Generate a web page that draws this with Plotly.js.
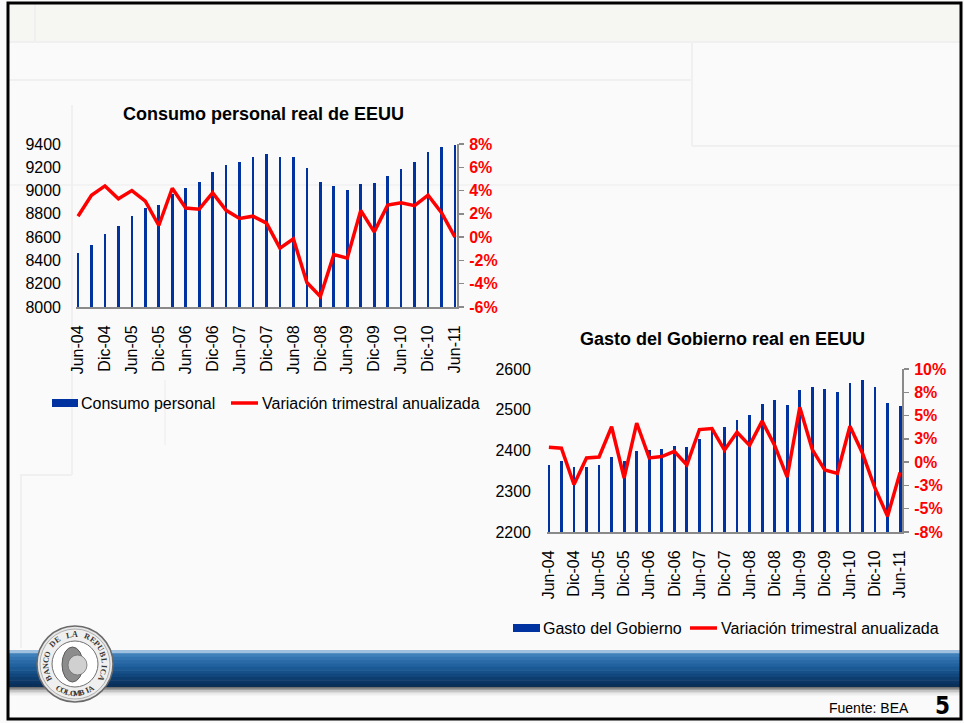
<!DOCTYPE html>
<html>
<head>
<meta charset="utf-8">
<script src="https://cdn.plot.ly/plotly-3.0.1.min.js"></script>
<style>
html,body{margin:0;padding:0;background:#fafafa;}
#chart{width:964px;height:723px;}
</style>
</head>
<body>
<div id="chart"></div>
<script>
// ---------- DATA ----------
const quarters = ["Jun-04","Sep-04","Dic-04","Mar-05","Jun-05","Sep-05","Dic-05","Mar-06","Jun-06","Sep-06","Dic-06",
  "Mar-07","Jun-07","Sep-07","Dic-07","Mar-08","Jun-08","Sep-08","Dic-08","Mar-09","Jun-09","Sep-09","Dic-09",
  "Mar-10","Jun-10","Sep-10","Dic-10","Mar-11","Jun-11"];

const consumoPersonal = [8465,8536,8628,8697,8783,8852,8878,8967,9024,9076,9162,9216,9248,9291,9317,9291,9291,
  9196,9076,9041,9001,9053,9062,9127,9188,9248,9334,9377,9389];
const consumoVariacion = [1.8,3.6,4.4,3.3,4.0,3.1,1.0,4.2,2.5,2.4,3.8,2.3,1.6,1.8,1.2,-0.95,-0.15,-3.9,-5.1,
  -1.5,-1.8,2.3,0.45,2.75,2.95,2.7,3.6,2.1,0.0];

const gastoGobierno = [2364,2374,2359,2359,2364,2384,2374,2398,2401,2403,2411,2408,2428,2450,2457,2475,2487,
  2514,2524,2511,2548,2556,2551,2543,2566,2573,2556,2516,2509];
const gastoVariacion = [1.6,1.5,-2.4,0.45,0.55,3.8,-1.7,4.2,0.45,0.6,1.15,-0.3,3.5,3.6,1.3,3.2,1.8,4.4,1.8,
  -1.6,5.9,1.35,-0.85,-1.2,3.85,0.95,-2.8,-5.8,-1.1];

const pctTicksLeft = [-6,-4,-2,0,2,4,6,8];
const pctTicksLeftText = ["-6%","-4%","-2%","0%","2%","4%","6%","8%"];
const pctTicksRight = [-7.5,-5,-2.5,0,2.5,5,7.5,10];
const pctTicksRightText = ["-8%","-5%","-3%","0%","3%","5%","8%","10%"];

const title1 = "Consumo personal real de EEUU";
const title2 = "Gasto del Gobierno real en EEUU";
const serieBar1 = "Consumo personal";
const serieBar2 = "Gasto del Gobierno";
const serieLine = "Variación trimestral anualizada";
const fuente = "Fuente: BEA";
const pagina = "5";
const logoTop = "BANCO DE LA REPUBLICA";
const logoBottom = "COLOMBIA";

// ---------- HELPERS ----------
const W = 964, H = 723;
const px = x => x / W;
const py = y => 1 - y / H;
const FONT = "Liberation Sans, Arial, sans-serif";
const BLUE = "#0033a0";
const RED = "#ff0000";
const tickLabels = quarters.filter((q, i) => i % 2 === 0);

// ---------- TRACES ----------
const traces = [
  {type:"bar", x:quarters, y:consumoPersonal, xaxis:"x", yaxis:"y", width:0.2,
   marker:{color:BLUE}, name:serieBar1, showlegend:false},
  {type:"scatter", mode:"lines", x:quarters, y:consumoVariacion, xaxis:"x", yaxis:"y2",
   line:{color:RED, width:3.5}, name:serieLine, showlegend:false},
  {type:"bar", x:quarters, y:gastoGobierno, xaxis:"x2", yaxis:"y3", width:0.22,
   marker:{color:BLUE}, name:serieBar2, showlegend:false},
  {type:"scatter", mode:"lines", x:quarters, y:gastoVariacion, xaxis:"x2", yaxis:"y4",
   line:{color:RED, width:3.5}, name:serieLine, showlegend:false}
];

// ---------- SHAPES (slide decoration) ----------
const shapes = [];
function rect(x0,y0,x1,y1,fill,line,lw){
  shapes.push({type:"rect", xref:"paper", yref:"paper", x0:px(x0), x1:px(x1), y0:py(y1), y1:py(y0),
    fillcolor:fill, line:{color:line||"rgba(0,0,0,0)", width:lw||0}, layer:"below"});
}
function seg(x0,y0,x1,y1,color,w,layer){
  shapes.push({type:"line", xref:"paper", yref:"paper", x0:px(x0), x1:px(x1), y0:py(y0), y1:py(y1),
    line:{color:color, width:w}, layer:layer||"below"});
}
// top strip
rect(8,3,961,42,"#f6f6f2");
// faint slide lines
const faint = "#f0f0f0";
seg(8,42,961,42,faint,2);
seg(35,3,35,42,faint,2);
seg(8,80,692,80,faint,2);
seg(692,42,692,146,faint,2);
seg(692,146,961,146,faint,2);
seg(8,185,961,185,"#f3f3f3",2);
seg(72,105,72,475,faint,2);
seg(20,475,72,475,faint,2);
seg(21,475,21,648,faint,2);
seg(165,380,165,445,"#f3f3f3",2);
// blue band with gradient strips
const bandColors = ["#9fc0df","#3f80ba","#3374b0","#2a6ba7","#22629e","#1b5994","#165089","#12477d","#0e3e70","#0b3563","#0a2f58"];
const bandTop = 650, bandBot = 687;
const step = (bandBot - bandTop) / bandColors.length;
bandColors.forEach((c,i)=>rect(8, bandTop + i*step, 961, bandTop + (i+1)*step + 0.6, c));
const shadowColors = ["#707070","#9c9c9c","#bfbfbf","#dadada","#ededed"];
shadowColors.forEach((c,i)=>rect(8, bandBot + i*1.6, 961, bandBot + (i+1)*1.6 + 0.4, c));

// legend shapes
const legendY1 = 403, legendY2 = 628;
shapes.push({type:"rect", xref:"paper", yref:"paper", x0:px(52), x1:px(78), y0:py(legendY1+4), y1:py(legendY1-4), fillcolor:BLUE, line:{width:0}, layer:"above"});
seg(231,legendY1,258,legendY1,RED,3.5,"above");
shapes.push({type:"rect", xref:"paper", yref:"paper", x0:px(513), x1:px(540), y0:py(legendY2+4), y1:py(legendY2-4), fillcolor:BLUE, line:{width:0}, layer:"above"});
seg(690,legendY2,717,legendY2,RED,3.5,"above");

// logo
const LCX = 75, LCY = 664;
function circ(r, fill, line, lw){
  shapes.push({type:"circle", xref:"paper", yref:"paper", x0:px(LCX-r), x1:px(LCX+r), y0:py(LCY+r), y1:py(LCY-r),
    fillcolor:fill, line:{color:line, width:lw}, layer:"above"});
}
circ(38,"#e6e6e6","#6a6a6a",1.5);
circ(35,"#efefef","#a0a0a0",0.8);
circ(23,"#ffffff","#707070",1);
shapes.push({type:"circle", xref:"paper", yref:"paper", x0:px(LCX-13), x1:px(LCX+8), y0:py(LCY+18), y1:py(LCY-17),
  fillcolor:"#8c8c8c", line:{color:"#5a5a5a", width:1}, layer:"above"});
shapes.push({type:"circle", xref:"paper", yref:"paper", x0:px(LCX-7), x1:px(LCX+12), y0:py(LCY+11), y1:py(LCY-9),
  fillcolor:"#d0d0d0", line:{color:"#707070", width:0.8}, layer:"above"});

// slide border
shapes.push({type:"rect", xref:"paper", yref:"paper", x0:px(8), x1:px(961), y0:py(719), y1:py(3),
  fillcolor:"rgba(0,0,0,0)", line:{color:"#000000", width:3}, layer:"above"});

// ---------- ANNOTATIONS ----------
const annotations = [
  {text:"<b>"+title1+"</b>", x:px(263), y:py(114), xref:"paper", yref:"paper", showarrow:false,
   xanchor:"center", yanchor:"middle", font:{family:FONT, size:18, color:"#000"}},
  {text:"<b>"+title2+"</b>", x:px(722), y:py(339), xref:"paper", yref:"paper", showarrow:false,
   xanchor:"center", yanchor:"middle", font:{family:FONT, size:18, color:"#000"}},
  {text:serieBar1, x:px(79), y:py(legendY1), xref:"paper", yref:"paper", showarrow:false,
   xanchor:"left", yanchor:"middle", font:{family:FONT, size:16, color:"#000"}},
  {text:serieLine, x:px(260), y:py(legendY1), xref:"paper", yref:"paper", showarrow:false,
   xanchor:"left", yanchor:"middle", font:{family:FONT, size:16, color:"#000"}},
  {text:serieBar2, x:px(541), y:py(legendY2), xref:"paper", yref:"paper", showarrow:false,
   xanchor:"left", yanchor:"middle", font:{family:FONT, size:16, color:"#000"}},
  {text:serieLine, x:px(719), y:py(legendY2), xref:"paper", yref:"paper", showarrow:false,
   xanchor:"left", yanchor:"middle", font:{family:FONT, size:16, color:"#000"}},
  {text:fuente, x:px(911), y:py(708), xref:"paper", yref:"paper", showarrow:false,
   xanchor:"right", yanchor:"middle", font:{family:"Liberation Sans Narrow, Arial Narrow, Liberation Sans, Arial", size:14, color:"#000"}},
  {text:"<b>"+pagina+"</b>", x:px(942), y:py(706), xref:"paper", yref:"paper", showarrow:false,
   xanchor:"center", yanchor:"middle", font:{family:"DejaVu Sans Condensed, DejaVu Sans, sans-serif", size:24, color:"#000"}}
];
// logo ring text
const ringR = 29.5;
(function(){
  const chars = logoTop.split("");
  const a0 = 208, a1 = -28;
  chars.forEach((ch,i)=>{
    if (ch === " ") return;
    const th = a0 + (a1 - a0) * i / (chars.length - 1);
    const rad = th * Math.PI / 180;
    annotations.push({text:"<b>"+ch+"</b>", x:px(LCX + ringR*Math.cos(rad)), y:py(LCY - ringR*Math.sin(rad)),
      xref:"paper", yref:"paper", showarrow:false, xanchor:"center", yanchor:"middle", textangle:90 - th,
      font:{family:"Liberation Serif, DejaVu Serif, serif", size:8, color:"#333"}});
  });
  const b = logoBottom.split("");
  const b0 = 236, b1 = 304;
  b.forEach((ch,i)=>{
    const th = b0 + (b1 - b0) * i / (b.length - 1);
    const rad = th * Math.PI / 180;
    annotations.push({text:"<b>"+ch+"</b>", x:px(LCX + ringR*Math.cos(rad)), y:py(LCY - ringR*Math.sin(rad)),
      xref:"paper", yref:"paper", showarrow:false, xanchor:"center", yanchor:"middle", textangle:270 - th,
      font:{family:"Liberation Serif, DejaVu Serif, serif", size:8, color:"#333"}});
  });
})();

// ---------- LAYOUT ----------
const tickFont = {family:FONT, size:16, color:"#000"};
const pctFont = {family:FONT, size:16, color:RED, weight:"bold"};
const xBase = {type:"category", range:[-0.15, 28.15], tickvals:tickLabels, ticktext:tickLabels, tickangle:-90,
  showline:true, linecolor:"#8a8a8a", linewidth:2, ticks:"", showgrid:false, zeroline:false,
  tickfont:tickFont, ticklabelstandoff:10, fixedrange:true};

const layout = {
  width:W, height:H, margin:{l:0,r:0,t:0,b:0},
  paper_bgcolor:"#fafafa", plot_bgcolor:"rgba(0,0,0,0)",
  showlegend:false, bargap:0,
  font:{family:FONT},
  xaxis:Object.assign({}, xBase, {domain:[px(76), px(457)], anchor:"y"}),
  yaxis:{domain:[py(307), py(144)], anchor:"x", range:[8000,9400], dtick:200, tick0:8000,
    showline:false, showgrid:false, zeroline:false, ticks:"", tickfont:tickFont, ticklabelstandoff:14},
  yaxis2:{overlaying:"y", side:"right", anchor:"x", range:[-6,8], tickvals:pctTicksLeft, ticktext:pctTicksLeftText,
    showline:true, linecolor:"#8a8a8a", linewidth:2, ticks:"outside", ticklen:5, tickcolor:"#8a8a8a", tickwidth:1.5,
    showgrid:false, zeroline:false, tickfont:pctFont, ticklabelstandoff:2},
  xaxis2:Object.assign({}, xBase, {domain:[px(547), px(902)], anchor:"y3"}),
  yaxis3:{domain:[py(532), py(369)], anchor:"x2", range:[2200,2600], dtick:100, tick0:2200,
    showline:false, showgrid:false, zeroline:false, ticks:"", tickfont:tickFont, ticklabelstandoff:15},
  yaxis4:{overlaying:"y3", side:"right", anchor:"x2", range:[-7.5,10], tickvals:pctTicksRight, ticktext:pctTicksRightText,
    showline:true, linecolor:"#8a8a8a", linewidth:2, ticks:"outside", ticklen:5, tickcolor:"#8a8a8a", tickwidth:1.5,
    showgrid:false, zeroline:false, tickfont:pctFont, ticklabelstandoff:2},
  shapes:shapes,
  annotations:annotations
};

Plotly.newPlot("chart", traces, layout, {staticPlot:true, displayModeBar:false});
</script>
</body>
</html>
